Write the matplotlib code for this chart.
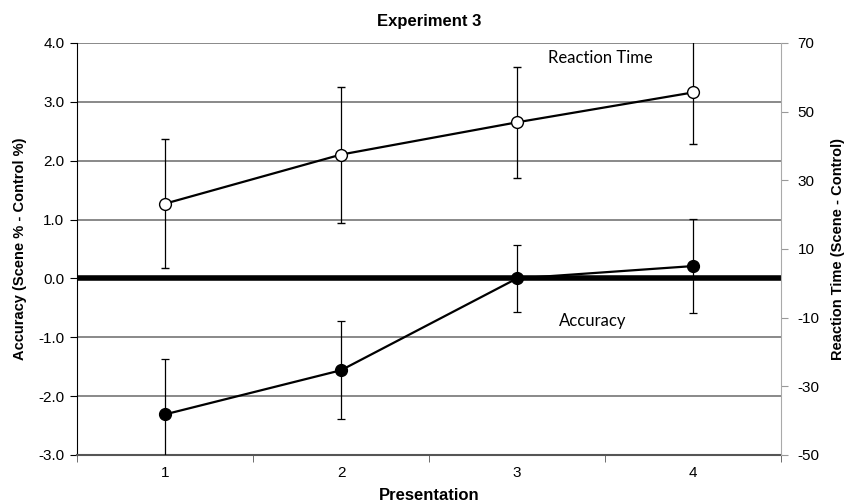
import matplotlib.pyplot as plt
import numpy as np

# data
presentation = [1, 2, 3, 4]
accuracy = [-2.31, -1.56, 0.0, 0.21]
accuracy_err = [0.94, 0.83, 0.57, 0.80]
reaction_time = [23.2, 37.5, 46.9, 55.6]
reaction_err = [18.7, 19.8, 16.2, 14.9]

left_ticks = [-3, -2, -1, 0, 1, 2, 3, 4]
right_ticks = [-50, -30, -10, 10, 30, 50, 70]

plt.rcParams['font.family'] = ['Liberation Sans', 'DejaVu Sans']

fig = plt.figure(figsize=(8.51, 5.04), dpi=100)
ax = fig.add_axes([77 / 851, 1 - 455 / 504, (781 - 77) / 851, (455 - 43) / 504])

# accuracy on the left axis
ax.set_ylim(-3, 4)
ax.set_xlim(0.5, 4.5)
ax.set_yticks(left_ticks)
ax.set_yticklabels([f'{v:.1f}' for v in left_ticks], fontsize=11)
for v in left_ticks:
    if v == 0:
        ax.axhline(v, color='black', lw=4, zorder=2)
    elif v != -3:
        ax.axhline(v, color='#808080', lw=1.3, zorder=1)

ax.errorbar(presentation, accuracy, yerr=accuracy_err, color='black', lw=1.6,
            marker='o', ms=8.5, mfc='black', mec='black', ecolor='black',
            elinewidth=0.9, capsize=3, capthick=0.9, zorder=5)

ax.set_xticks(presentation)
ax.set_xticklabels([str(p) for p in presentation], fontsize=11)
ax.set_xticks([0.5, 1.5, 2.5, 3.5, 4.5], minor=True)
ax.tick_params(axis='x', which='major', length=0, pad=8)
ax.tick_params(axis='x', which='minor', length=5, color='#555555', direction='out')
ax.tick_params(axis='y', length=5, direction='out', pad=4)

ax.spines['top'].set_visible(False)
ax.spines['left'].set_color('black')
ax.spines['bottom'].set_color('#555555')
ax.spines['bottom'].set_linewidth(1.5)
ax.spines['right'].set_visible(False)

ax.set_xlabel('Presentation', fontsize=12, fontweight='bold', labelpad=6)
ax.set_ylabel('Accuracy (Scene % - Control %)', fontsize=10.5, fontweight='bold', labelpad=8)
ax.set_title('Experiment 3', fontsize=12, fontweight='bold', pad=12)

# reaction time on the right axis
ax2 = ax.twinx()
ax2.set_ylim(-50, 70)
ax2.set_yticks(right_ticks)
ax2.set_yticklabels([str(v) for v in right_ticks], fontsize=11)
ax2.tick_params(axis='y', length=5, direction='out', color='#999999', pad=7)
for s in ['top', 'left', 'bottom']:
    ax2.spines[s].set_visible(False)
ax2.spines['right'].set_color('#aaaaaa')

ax2.errorbar(presentation, reaction_time, yerr=reaction_err, color='black', lw=1.6,
             marker='o', ms=8.5, mfc='white', mec='black', mew=1.0, ecolor='black',
             elinewidth=0.9, capsize=3, capthick=0.9, zorder=5)
ax2.set_ylabel('Reaction Time (Scene - Control)', fontsize=10.5, fontweight='bold', labelpad=8)

fig.text(600 / 851, 1 - 58 / 504, 'Reaction Time', family='Lato', fontsize=12,
         ha='center', va='center')
fig.text(593 / 851, 1 - 321 / 504, 'Accuracy', family='Lato', fontsize=12,
         ha='center', va='center')

fig.savefig('out.png', dpi=100)
